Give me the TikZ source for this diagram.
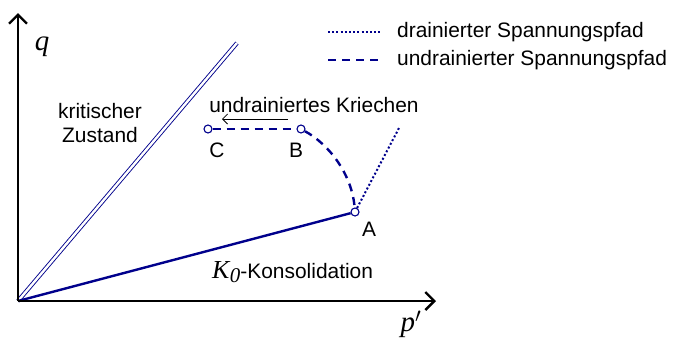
\documentclass[tikz,border=0pt]{standalone}
\usepackage{fontspec}
\setmainfont{Liberation Sans}
\newfontfamily\tnr{Liberation Serif}
\usetikzlibrary{arrows.meta}
\definecolor{navy}{RGB}{0,0,140}
\tikzset{
  axis/.style={line width=2.4bp,-{Straight Barb[length=9bp,width=18bp,line width=2.4bp]}},
  lbl/.style={font=\fontsize{21}{24}\selectfont,inner sep=0pt},
  sym/.style={font=\fontsize{29}{30}\selectfont\tnr\itshape,inner sep=0pt},
  pt/.style={circle,draw=navy,fill=white,line width=1.1bp,minimum size=8bp,inner sep=0pt},
  undr/.style={navy,line width=2.4bp,dash pattern=on 8bp off 6bp},
  drn/.style={navy,line width=2bp,dash pattern=on 2bp off 2.2bp},
}
\begin{document}
\begin{tikzpicture}[x=1bp,y=-1bp]
\useasboundingbox (0,0) rectangle (673,349);
\coordinate (O) at (18,301);
\coordinate (Ytop) at (18,13);
\coordinate (Xend) at (436,301);
\coordinate (CS) at (237,43);
\coordinate (D) at (399,128);
% critical state line
\draw[navy,line width=0.9bp,double=white,double distance=2.4bp] (O) -- (CS);
% K0 line
\node[pt] (A) at (355,212) {};
\node[pt] (B) at (301,129) {};
\node[pt] (C) at (208,129) {};
\draw[navy,line width=2.4bp] (O) -- (A);
% paths
\draw[drn] (A) -- (D);
\draw[undr] (C) -- (B);
\draw[undr] (B) .. controls (330,145) and (352,175) .. (A);
% axes
\draw[axis] (O) -- (Ytop);
\draw[axis] (O) -- (Xend);
\node[sym] (q) at (42,47) {q};
\node[sym] (p) at (411,324) {p$'$};
% labels
\node[lbl,align=center] (ks) at (100,123) {kritischer\\Zustand};
\node[lbl] (uk) at (314,105) {undrainiertes Kriechen};
\coordinate (Ks) at (288,119);
\coordinate (Ke) at (222,119);
\draw[line width=0.8bp,-{Straight Barb[length=5bp,width=10bp]}] (Ks) -- (Ke);
\node[lbl] (lC) at (217,150) {C};
\node[lbl] (lB) at (296,150) {B};
\node[lbl] (lA) at (369,229) {A};
\node[lbl,anchor=west] (k0) at (212,272) {{\tnr\itshape\fontsize{26}{28}\selectfont K\kern0.5bp\raisebox{-4bp}{\fontsize{21}{22}\selectfont 0}}-Konsolidation};
% legend
\coordinate (L1a) at (328,32);
\coordinate (L1b) at (382,32);
\coordinate (L2a) at (328,60);
\coordinate (L2b) at (382,60);
\draw[drn] (L1a) -- (L1b);
\draw[undr] (L2a) -- (L2b);
\node[lbl,anchor=west] (t1) at (397,32) {drainierter Spannungspfad};
\node[lbl,anchor=west] (t2) at (397,60) {undrainierter Spannungspfad};
\end{tikzpicture}
\end{document}
